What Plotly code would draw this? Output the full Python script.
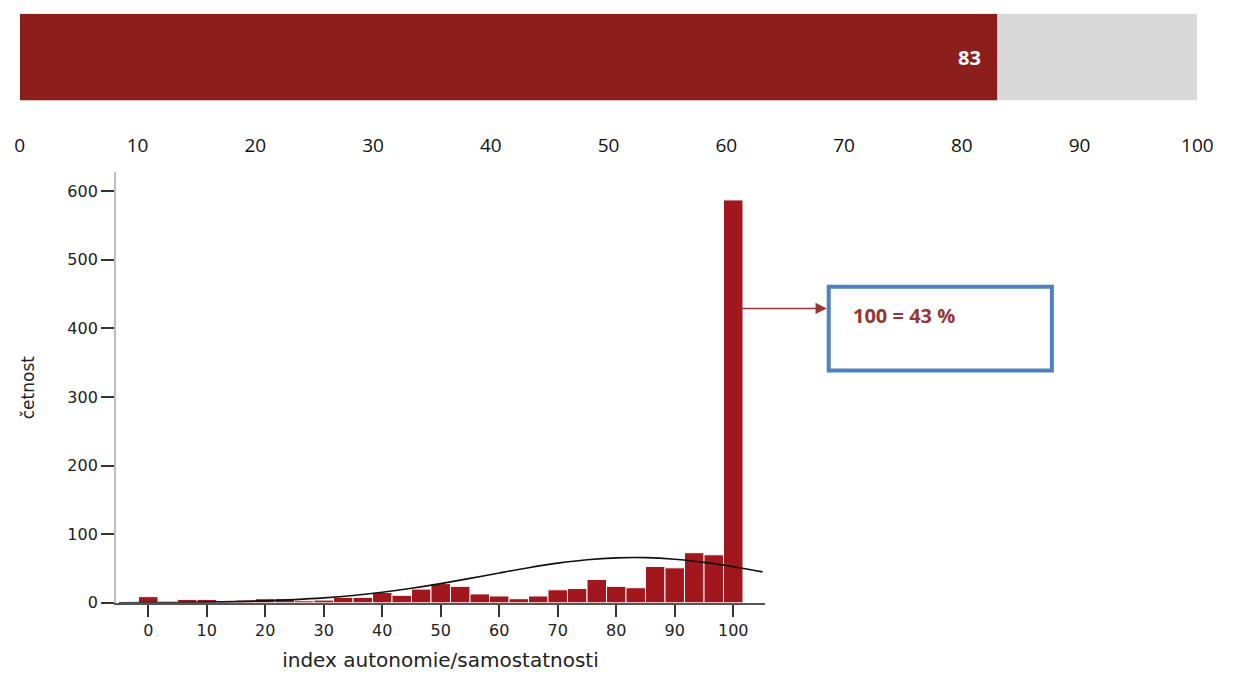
import plotly.graph_objects as go

# ---------------- data ----------------
top_value = 83
top_max = 100
top_ticks = [0, 10, 20, 30, 40, 50, 60, 70, 80, 90, 100]

bin_centers = [0, 3.33, 6.67, 10, 13.33, 16.67, 20, 23.33, 26.67, 30,
               33.33, 36.67, 40, 43.33, 46.67, 50, 53.33, 56.67, 60, 63.33,
               66.67, 70, 73.33, 76.67, 80, 83.33, 86.67, 90, 93.33, 96.67, 100]
counts = [9, 2, 5, 5, 2, 4, 6, 6, 3, 4,
          8, 8, 15, 11, 20, 28, 24, 13, 10, 6,
          10, 19, 21, 34, 24, 22, 53, 51, 73, 70, 587]
bin_width = 3.333

curve_x = [-5, 0, 5, 10, 15, 20, 25, 30, 35, 40, 45, 50, 55, 60, 65, 70, 75, 80, 85, 90, 95, 100, 105]
curve_y = [0.15, 0.3, 0.55, 1.0, 1.7, 2.9, 4.7, 7.2, 10.7, 15.4, 21.2, 28, 35.6, 43.5, 51.1,
           57.8, 62.8, 65.5, 65.8, 63.5, 58.9, 52.6, 45.1]

hist_xticks = [0, 10, 20, 30, 40, 50, 60, 70, 80, 90, 100]
hist_yticks = [0, 100, 200, 300, 400, 500, 600]

note_text = "100 = 43 %"
x_title = "index autonomie/samostatnosti"
y_title = "četnost"

# ---------------- figure ----------------
W, H = 1233, 690
def px(x):
    return x / W
def py(y):
    return 1 - y / H

fig = go.Figure()

# top progress bar
fig.add_trace(go.Bar(x=[top_max], y=[0], orientation="h", width=1,
                     marker=dict(color="#D9D9D9", line=dict(width=0)),
                     xaxis="x", yaxis="y", showlegend=False, hoverinfo="skip"))
fig.add_trace(go.Bar(x=[top_value], y=[0], orientation="h", width=1,
                     marker=dict(color="#8C1F1B", line=dict(width=0)),
                     xaxis="x", yaxis="y", showlegend=False, hoverinfo="skip"))

# histogram
fig.add_trace(go.Bar(x=bin_centers, y=counts, width=bin_width,
                     marker=dict(color="#A1171D", line=dict(color="#FFFFFF", width=1)),
                     xaxis="x2", yaxis="y2", showlegend=False))
fig.add_trace(go.Scatter(x=curve_x, y=curve_y, mode="lines", line=dict(color="#111111", width=1.6, shape="spline"),
                         xaxis="x2", yaxis="y2", showlegend=False, hoverinfo="skip"))

fig.update_layout(
    autosize=True,
    margin=dict(l=0, r=0, t=0, b=0),
    paper_bgcolor="white", plot_bgcolor="white",
    barmode="overlay",
    xaxis=dict(domain=[px(15), px(1213)], range=[0, 100], tickvals=top_ticks,
               showgrid=False, zeroline=False, showline=False,
               ticks="outside", ticklen=28, tickcolor="rgba(0,0,0,0)",
               tickfont=dict(family="Open Sans", size=19, color="#111111"), fixedrange=True),
    yaxis=dict(domain=[py(102), py(14)], range=[-0.5, 0.5], visible=False, fixedrange=True),
    xaxis2=dict(domain=[px(113), px(773)], range=[-5.5, 105.4], anchor="y2",
                tickvals=hist_xticks, showgrid=False, zeroline=False,
                showline=True, linecolor="#555555", linewidth=1.5,
                ticks="outside", ticklen=12, tickwidth=2, tickcolor="#333333",
                tickfont=dict(family="DejaVu Sans", size=16, color="#222222"),
                title=dict(text=x_title, font=dict(family="DejaVu Sans", size=20, color="#222222"), standoff=14)),
    yaxis2=dict(domain=[py(611.7), py(175)], range=[0, 627], anchor="x2",
                tickvals=hist_yticks, showgrid=False, zeroline=False,
                showline=True, linecolor="#BDBDBD", linewidth=2,
                ticks="outside", ticklen=13, tickwidth=2, tickcolor="#333333",
                tickfont=dict(family="DejaVu Sans", size=16, color="#222222"),
                title=dict(text=y_title, font=dict(family="DejaVu Sans", size=17, color="#222222"), standoff=28)),
)

# value label on top bar
fig.add_annotation(x=top_value, y=0, xref="x", yref="y", text="<b>83</b>", showarrow=False,
                   xanchor="right", xshift=-14, font=dict(family="Open Sans", size=20, color="white"))

# note box
fig.add_shape(type="rect", xref="paper", yref="paper",
              x0=px(838), x1=px(1065), y0=py(376), y1=py(291),
              line=dict(color="#4F81BD", width=4), fillcolor="white")
fig.add_annotation(xref="paper", yref="paper", x=px(861), y=py(320), text="<b>" + note_text + "</b>",
                   showarrow=False, xanchor="left", yanchor="middle",
                   font=dict(family="Open Sans", size=20, color="#953735"))
# arrow from bar to box
fig.add_annotation(xref="paper", yref="paper", x=px(836), y=py(313), ax=-88, ay=0,
                   text="", showarrow=True, arrowhead=2, arrowsize=1.4, arrowwidth=1.6,
                   arrowcolor="#953735")

fig.write_html("out.html",
               config={"displayModeBar": False, "responsive": True},
               default_width="100vw", default_height="100vh",
               post_script="document.body.style.margin='0px';document.body.style.overflow='hidden';")
